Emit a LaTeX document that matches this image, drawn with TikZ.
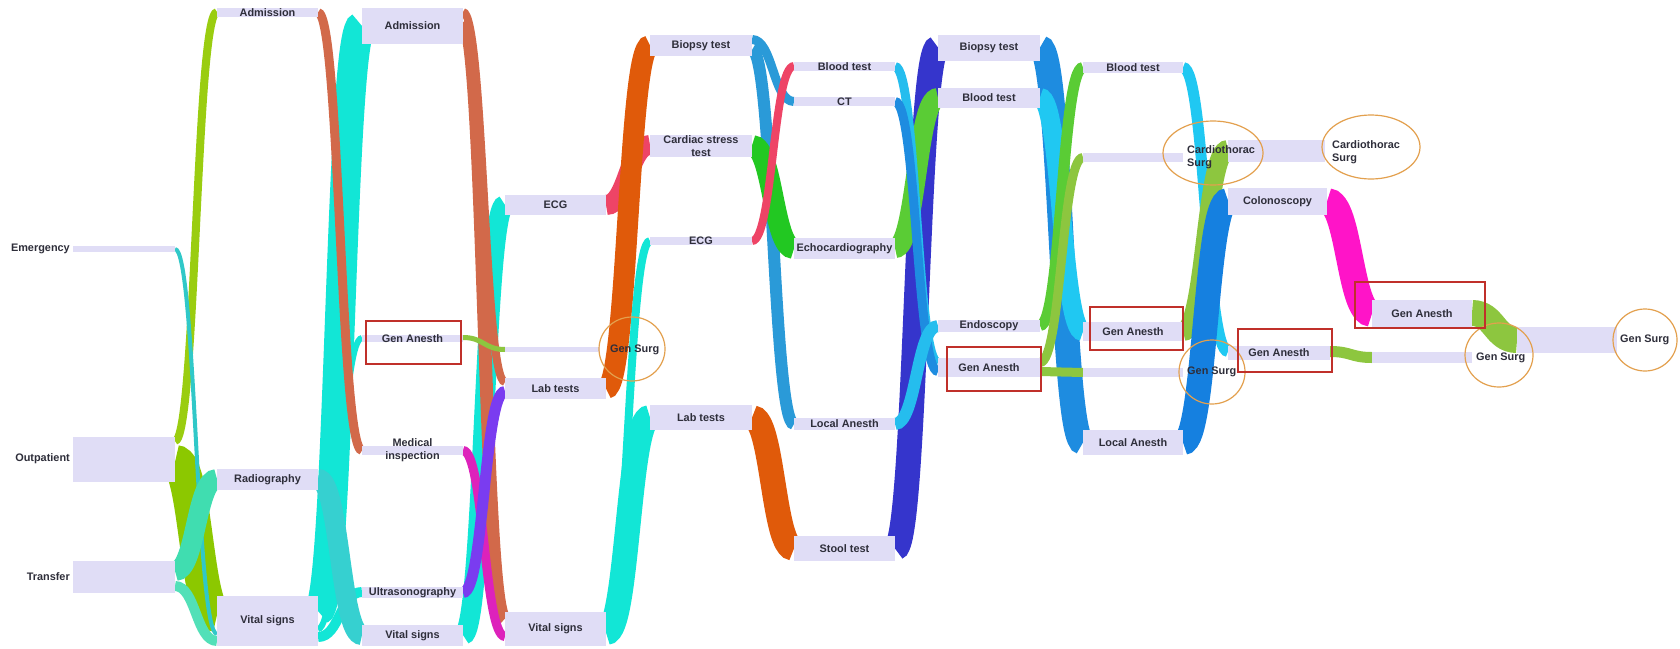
\documentclass[tikz,border=0pt]{standalone}
\usepackage{fontspec}
\setmainfont{Liberation Sans}
\usetikzlibrary{calc,shapes.geometric}
\pgfdeclarelayer{paper}
\pgfdeclarelayer{flows}
\pgfsetlayers{paper,flows,main}

\definecolor{barfill}{HTML}{E0DDF6}
\definecolor{txt}{HTML}{2E2E3A}
\definecolor{ringc}{HTML}{E3A04E}
\definecolor{hlc}{HTML}{C0302A}
\definecolor{yg}{HTML}{9ACD10}
\definecolor{lime}{HTML}{8CC800}
\definecolor{aqua}{HTML}{40DDB0}
\definecolor{mint}{HTML}{52E0B8}
\definecolor{tealthin}{HTML}{30C8C8}
\definecolor{brown}{HTML}{D2694A}
\definecolor{cyanf}{HTML}{12E6D6}
\definecolor{tealrad}{HTML}{36D0D0}
\definecolor{leaf}{HTML}{8DC63F}
\definecolor{magA}{HTML}{DD22BB}
\definecolor{purp}{HTML}{7A3CF0}
\definecolor{redf}{HTML}{EE4466}
\definecolor{orangef}{HTML}{E05A0A}
\definecolor{blueA}{HTML}{2A9AD8}
\definecolor{greenA}{HTML}{22C822}
\definecolor{navy}{HTML}{3535CC}
\definecolor{greenB}{HTML}{5ACC35}
\definecolor{skyA}{HTML}{25BDEE}
\definecolor{blueB}{HTML}{1E8CE0}
\definecolor{skyB}{HTML}{20C8F2}
\definecolor{blueC}{HTML}{1580E0}
\definecolor{magB}{HTML}{FF14C8}

\tikzset{
  barbox/.style={rectangle, fill=barfill, draw=none, inner sep=0pt, outer sep=0pt},
  lbl/.style={font=\bfseries\fontsize{10.9}{12.8}\selectfont, text=txt, inner sep=0pt, align=center},
  ring/.style={ellipse, draw=ringc, line width=1.2pt, inner sep=0pt},
  hl/.style={draw=hlc, line width=1.3pt},
}

% a stage bar: name, left, top, right, bottom (pixel grid, y downwards)
\newcommand\stage[5]{%
  \node[barbox, minimum width={#4-#2}, minimum height={#5-#3}] (#1) at ({(#2+#4)/2},{(#3+#5)/2}) {};}

% a flow band: colour, source, offset on source, target, offset on target, width
\newcommand\flow[6]{%
  \path ($(#2.north east)+(0,{#3+#6/2})$) coordinate (fa)
        ($(#4.north west)+(0,{#5+#6/2})$) coordinate (fb);
  \path ($(fa)!0.5!(fb)$) coordinate (fm);
  \draw[#1, line width=#6] (fa) .. controls (fm|-fa) and (fm|-fb) .. (fb);}

\begin{document}
\begin{tikzpicture}[x=1pt,y=-1pt]
\begin{pgfonlayer}{paper}
  \fill[white] (0,0) rectangle (1680,648);
\end{pgfonlayer}
\useasboundingbox (0,0) rectangle (1680,648);

% ---- stage bars ----
\stage{em0}{73}{246}{175}{252}
\stage{out0}{73}{437}{175}{482}
\stage{tra0}{73}{561}{175}{593}

\stage{adm1}{217}{8}{318}{17}
\stage{rad1}{217}{469}{318}{490}
\stage{vs1}{217}{596}{318}{646}

\stage{adm2}{362}{8}{463}{44}
\stage{ga2}{362}{335}{463}{342}
\stage{mi2}{362}{446}{463}{455}
\stage{us2}{362}{587}{463}{598}
\stage{vs2}{362}{625}{463}{646}

\stage{ecg3}{505}{195}{606}{215}
\stage{gs3}{505}{347}{600}{352}
\stage{lab3}{505}{378}{606}{399}
\stage{vs3}{505}{612}{606}{646}

\stage{bio4}{650}{35}{752}{56}
\stage{cst4}{650}{135}{752}{157}
\stage{ecg4}{650}{237}{752}{245}
\stage{lab4}{650}{405}{752}{430}

\stage{bt5}{794}{62}{895}{71}
\stage{ct5}{794}{97}{895}{106}
\stage{echo5}{794}{238}{895}{259}
\stage{la5}{794}{418}{895}{430}
\stage{st5}{794}{536}{895}{561}

\stage{bio6}{938}{35}{1040}{61}
\stage{bt6}{938}{88}{1040}{108}
\stage{endo6}{938}{320}{1040}{332}
\stage{ga6}{938}{358}{1040}{377}

\stage{bt7}{1083}{62}{1183}{73}
\stage{cts7}{1083}{153}{1183}{162}
\stage{ga7}{1083}{322}{1183}{341}
\stage{gs7}{1083}{368}{1183}{377}
\stage{la7}{1083}{430}{1183}{455}

\stage{cts8}{1228}{140}{1325}{162}
\stage{col8}{1228}{188}{1327}{215}
\stage{ga8}{1228}{346}{1330}{360}

\stage{ga9}{1372}{300}{1472}{327}
\stage{gs9}{1372}{352}{1472}{363}

\stage{gs10}{1517}{327}{1617}{353}

% ---- flow bands ----
\begin{pgfonlayer}{flows}
\flow{lime}{out0}{8}{vs1}{2}{34}
\flow{yg}{out0}{0}{adm1}{0}{8}
\flow{tealthin}{em0}{1}{vs1}{36}{4}
\flow{aqua}{tra0}{0}{rad1}{0}{20}
\flow{mint}{tra0}{20}{vs1}{40}{10}

\flow{cyanf}{vs1}{0}{adm2}{3}{30}
\flow{cyanf}{vs1}{30}{ga2}{0}{6}
\flow{cyanf}{vs1}{36}{us2}{0}{10}
\flow{tealrad}{rad1}{0}{vs2}{0}{20}
\flow{brown}{adm1}{0}{mi2}{0}{9}

\flow{cyanf}{vs2}{0}{ecg3}{0}{20}
\flow{brown}{adm2}{0}{lab3}{0}{8}
\flow{brown}{adm2}{8}{vs3}{0}{13}
\flow{leaf}{ga2}{0}{gs3}{0}{5}
\flow{magA}{mi2}{0}{vs3}{20}{9}
\flow{purp}{us2}{0}{lab3}{8}{11}

\flow{redf}{ecg3}{0}{cst4}{0}{20}
\flow{orangef}{lab3}{0}{bio4}{0}{21}
\flow{cyanf}{vs3}{0}{ecg4}{0}{8}
\flow{cyanf}{vs3}{8}{lab4}{0}{25}

\flow{blueA}{bio4}{0}{ct5}{0}{9}
\flow{blueA}{bio4}{9}{la5}{0}{12}
\flow{greenA}{cst4}{0}{echo5}{0}{21}
\flow{redf}{ecg4}{0}{bt5}{0}{8}
\flow{orangef}{lab4}{0}{st5}{0}{25}

\flow{navy}{st5}{0}{bio6}{0}{25}
\flow{greenB}{echo5}{0}{bt6}{0}{20}
\flow{skyA}{bt5}{0}{ga6}{0}{9}
\flow{blueB}{ct5}{0}{ga6}{9}{9}
\flow{skyA}{la5}{0}{endo6}{0}{12}

\flow{blueB}{bio6}{0}{la7}{0}{25}
\flow{skyB}{bt6}{0}{ga7}{0}{19}
\flow{greenB}{endo6}{0}{bt7}{0}{11}
\flow{leaf}{ga6}{0}{cts7}{0}{9}
\flow{leaf}{ga6}{9}{gs7}{0}{9}

\flow{skyB}{bt7}{0}{ga8}{0}{11}
\flow{leaf}{ga7}{0}{cts8}{0}{19}
\flow{blueC}{la7}{0}{col8}{0}{25}

\flow{magB}{col8}{0}{ga9}{0}{27}
\flow{leaf}{ga8}{0}{gs9}{0}{11}

\flow{leaf}{ga9}{0}{gs10}{0}{26}
\end{pgfonlayer}

% ---- labels ----
\node[lbl, anchor=east] (t-em0) at (70,249) {Emergency};
\node[lbl, anchor=east] (t-out0) at (70,459) {Outpatient};
\node[lbl, anchor=east] (t-tra0) at (70,577) {Transfer};

\node[lbl] (t-adm1) at (adm1) {Admission};
\node[lbl] (t-rad1) at (rad1) {Radiography};
\node[lbl] (t-vs1) at (vs1) {Vital signs};

\node[lbl] (t-adm2) at (adm2) {Admission};
\node[lbl] (t-ga2) at (ga2) {Gen Anesth};
\node[lbl] (t-mi2) at (mi2) {Medical\\inspection};
\node[lbl] (t-us2) at (us2) {Ultrasonography};
\node[lbl] (t-vs2) at (vs2) {Vital signs};

\node[lbl] (t-ecg3) at (ecg3) {ECG};
\node[lbl, anchor=west] (t-gs3) at (610,350) {Gen Surg};
\node[lbl] (t-lab3) at (lab3) {Lab tests};
\node[lbl] (t-vs3) at (vs3) {Vital signs};

\node[lbl] (t-bio4) at (bio4) {Biopsy test};
\node[lbl] (t-cst4) at (cst4) {Cardiac stress\\test};
\node[lbl] (t-ecg4) at (ecg4) {ECG};
\node[lbl] (t-lab4) at (lab4) {Lab tests};

\node[lbl] (t-bt5) at (bt5) {Blood test};
\node[lbl] (t-ct5) at (ct5) {CT};
\node[lbl] (t-echo5) at (echo5) {Echocardiography};
\node[lbl] (t-la5) at (la5) {Local Anesth};
\node[lbl] (t-st5) at (st5) {Stool test};

\node[lbl] (t-bio6) at (bio6) {Biopsy test};
\node[lbl] (t-bt6) at (bt6) {Blood test};
\node[lbl] (t-endo6) at (endo6) {Endoscopy};
\node[lbl] (t-ga6) at (ga6) {Gen Anesth};

\node[lbl] (t-bt7) at (bt7) {Blood test};
\node[lbl, anchor=west, align=left] (t-cts7) at (1187,157) {Cardiothorac\\Surg};
\node[lbl] (t-ga7) at (ga7) {Gen Anesth};
\node[lbl, anchor=west] (t-gs7) at (1187,372) {Gen Surg};
\node[lbl] (t-la7) at (la7) {Local Anesth};

\node[lbl, anchor=west, align=left] (t-cts8) at (1332,152) {Cardiothorac\\Surg};
\node[lbl] (t-col8) at (col8) {Colonoscopy};
\node[lbl] (t-ga8) at (ga8) {Gen Anesth};

\node[lbl] (t-ga9) at (ga9) {Gen Anesth};
\node[lbl, anchor=west] (t-gs9) at (1476,358) {Gen Surg};

\node[lbl, anchor=west] (t-gs10) at (1620,340) {Gen Surg};

% ---- highlight marks ----
\node[ring, minimum width=66, minimum height=64] (o-gs3) at (632,349) {};
\node[ring, minimum width=100, minimum height=64] (o-cts7) at (1213,153) {};
\node[ring, minimum width=66, minimum height=64] (o-gs7) at (1212,372) {};
\node[ring, minimum width=98, minimum height=64] (o-cts8) at (1371,147) {};
\node[ring, minimum width=68, minimum height=64] (o-gs9) at (1499,355) {};
\node[ring, minimum width=64, minimum height=62] (o-gs10) at (1645,340) {};

\draw[hl] (366,321) rectangle (461,364);
\draw[hl] (947,347) rectangle (1041,391);
\draw[hl] (1090,307) rectangle (1183,350);
\draw[hl] (1238,329) rectangle (1332,372);
\draw[hl] (1355,282) rectangle (1485,328);
\end{tikzpicture}
\end{document}
